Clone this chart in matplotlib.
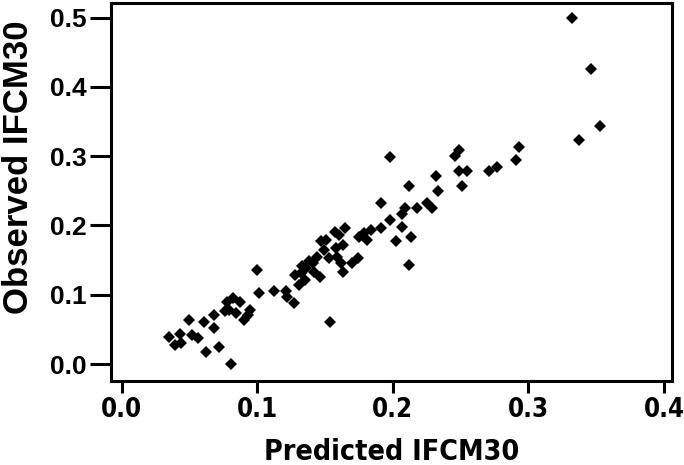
import matplotlib
matplotlib.use('Agg')
import matplotlib.pyplot as plt
import numpy as np

# Predicted vs observed IFCM30
predicted = [0.035, 0.039, 0.043, 0.044, 0.050, 0.052, 0.056, 0.061, 0.062, 0.068,
             0.068, 0.072, 0.076, 0.078, 0.082, 0.087, 0.079, 0.084, 0.081, 0.093,
             0.095, 0.090, 0.100, 0.101, 0.112, 0.121, 0.122, 0.127, 0.128, 0.133,
             0.138, 0.135, 0.131, 0.141, 0.136, 0.142, 0.146, 0.132, 0.144, 0.153,
             0.159, 0.162, 0.174, 0.170, 0.163, 0.149, 0.158, 0.163, 0.147, 0.151,
             0.157, 0.160, 0.165, 0.175, 0.179, 0.184, 0.181, 0.154, 0.191, 0.191,
             0.198, 0.202, 0.198, 0.207, 0.207, 0.209, 0.212, 0.213, 0.212, 0.218,
             0.225, 0.229, 0.232, 0.233, 0.246, 0.249, 0.249, 0.255, 0.251, 0.271,
             0.277, 0.291, 0.293, 0.332, 0.346, 0.353, 0.337]
observed = [0.039, 0.027, 0.044, 0.030, 0.064, 0.042, 0.037, 0.061, 0.018, 0.071,
            0.052, 0.025, 0.076, 0.090, 0.095, 0.090, 0.078, 0.073, 0.000, 0.071,
            0.078, 0.064, 0.135, 0.102, 0.106, 0.106, 0.097, 0.088, 0.129, 0.141,
            0.148, 0.121, 0.114, 0.146, 0.138, 0.133, 0.126, 0.131, 0.155, 0.153,
            0.155, 0.146, 0.153, 0.146, 0.133, 0.165, 0.167, 0.172, 0.177, 0.179,
            0.191, 0.186, 0.197, 0.184, 0.189, 0.194, 0.179, 0.061, 0.197, 0.233,
            0.208, 0.177, 0.299, 0.198, 0.216, 0.225, 0.257, 0.184, 0.143, 0.225,
            0.232, 0.225, 0.272, 0.250, 0.300, 0.309, 0.278, 0.278, 0.257, 0.278,
            0.285, 0.294, 0.313, 0.499, 0.426, 0.344, 0.323]

x_ticks = [0.0, 0.1, 0.2, 0.3, 0.4]
y_ticks = [0.0, 0.1, 0.2, 0.3, 0.4, 0.5]

fig = plt.figure(figsize=(6.84, 4.65), dpi=100)
ax = fig.add_axes([0.1618, 0.1806, 0.8202, 0.8135])

ax.plot(predicted, observed, linestyle='none', marker='D', ms=6.6,
        color='black', markeredgewidth=0)

ax.set_xlim(-0.0081, 0.4056)
ax.set_ylim(-0.0245, 0.5214)
ax.set_xticks(x_ticks)
ax.set_yticks(y_ticks)
# x axis text is in a condensed face in the original
ax.set_xticklabels([f'{v:.1f}' for v in x_ticks],
                   family='DejaVu Sans', fontstretch='condensed',
                   fontsize=18.5, fontweight='bold')
ax.set_yticklabels([f'{v:.1f}' for v in y_ticks],
                   family=['Liberation Sans'], fontsize=19, fontweight='bold')

ax.tick_params(axis='x', direction='out', length=8.5, width=2.2, pad=3)
ax.tick_params(axis='y', direction='out', length=15, width=2.2, pad=2.5)
ax.tick_params(top=False, right=False)
for sp in ax.spines.values():
    sp.set_linewidth(2.2)

ax.set_xlabel('Predicted IFCM30', family='DejaVu Sans', fontstretch='condensed',
              fontsize=20.5, fontweight='bold')
ax.set_ylabel('Observed IFCM30', family=['Liberation Sans'],
              fontsize=25, fontweight='bold')
ax.xaxis.set_label_coords(0.5, -0.150)
ax.yaxis.set_label_coords(-0.135, 0.566)

fig.savefig('out.png', dpi=100, facecolor='white')
